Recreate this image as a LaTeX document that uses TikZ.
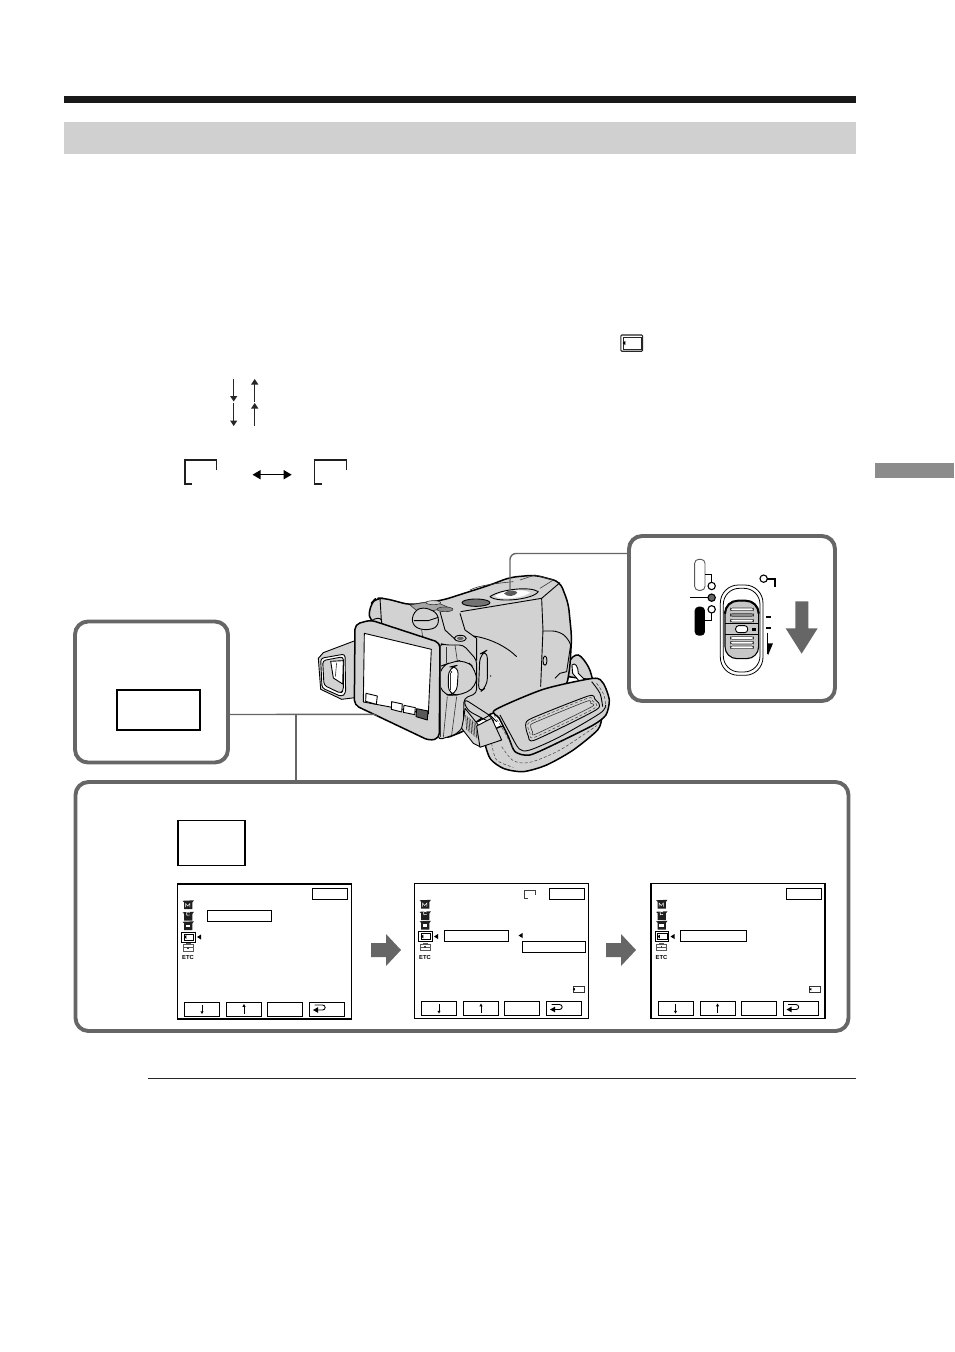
\documentclass[tikz,border=0pt]{standalone}
\usepackage{fontspec}
\setmainfont{Liberation Sans}
\usetikzlibrary{arrows.meta}
\definecolor{panelgray}{HTML}{666666}
\definecolor{bandgray}{HTML}{D0D0D0}
\definecolor{bodygray}{HTML}{D2D2D2}
\definecolor{midgray}{HTML}{9A9A9A}
\tikzset{
  panelbox/.style={draw=panelgray,line width=3.9pt,rounded corners=13pt,fill=white},
  leader/.style={draw=panelgray,line width=1.4pt},
  screenbox/.style={draw=black,line width=1.1pt,fill=white},
  labelbox/.style={draw=black,line width=1pt,fill=white},
  blockarrow/.style={fill=panelgray,draw=none},
  camline/.style={draw=black,line width=0.9pt,line join=round},
  camheavy/.style={draw=black,line width=1.5pt,line join=round},
  camfine/.style={draw=black!80,line width=0.6pt,line join=round},
  stitch/.style={draw=black!75,line width=0.5pt,dash pattern=on 3pt off 2pt},
  zoomcam/.style={shift={(300,530)},x=0.3333pt,y=-0.3333pt},
  zoomsw/.style={shift={(625,530)},x=0.3333pt,y=-0.3333pt},
}
\newcommand{\camshape}[2]{%
  \fill[black!88] (#1-5.5,#2-4.2) -- (#1+6,#2-4.7) -- (#1+4.4,#2-2.6) -- (#1+4.4,#2+4) -- (#1-3.8,#2+4) -- (#1-3.8,#2-2.6) -- cycle;
}
\newcommand{\menucommon}{%
  \draw[screenbox] (0,0) rectangle (174,135);
  \draw[labelbox] (135,4.5) rectangle (170,15.5);
  \camshape{10.5}{21}
  \draw[white,line width=0.5pt] (8,23) -- (8,19.5) -- (10.2,22) -- (12.4,19.5) -- (12.4,23);
  \camshape{10.5}{32.5}
  \draw[white,line width=0.6pt] (12,31) arc (40:320:1.9);
  \camshape{10.5}{42}
  \fill[white] (8.3,40.8) rectangle (12.7,43.2);
  \draw[draw=black,line width=0.9pt] (4,48) rectangle (17.5,58);
  \draw[black,line width=0.5pt] (6.5,50) rectangle (16,56);
  \fill[black] (6.3,53) -- (8.8,51.2) -- (8.8,54.8) -- cycle;
  \fill[black] (19.5,53) -- (23.5,50.5) -- (23.5,55.5) -- cycle;
  \draw[black!65,line width=0.6pt] (5.5,60.5) rectangle (15.5,67);
  \draw[black!65,line width=0.6pt] (5.5,63.5) -- (15.5,63.5) (8.5,60.5) -- (8.5,59.5) -- (12.5,59.5) -- (12.5,60.5);
  \fill[black!75] (9.8,62.8) rectangle (11.2,64.5);
  \node[font=\bfseries\fontsize{5.8}{5.8}\selectfont,inner sep=0pt] at (10.5,73.7) {ETC};
  \foreach \bx in {7,49,90,132}{\draw[labelbox] (\bx,118) rectangle (\bx+35,132);}
  \draw[black,line width=0.6pt] (24.5,120.5) -- (24.5,128);
  \fill[black] (24.5,130) -- (22.9,127.3) -- (26.1,127.3) -- cycle;
  \draw[black,line width=0.6pt] (66.5,129.5) -- (66.5,122.5);
  \fill[black] (66.5,120) -- (64.9,122.8) -- (68.1,122.8) -- cycle;
  \draw[black,line width=0.9pt] (137,121) -- (145,121) .. controls (148.5,121) and (148.5,126) .. (145,126) -- (139,126);
  \fill[black] (135.5,126) -- (140.5,123.2) -- (140.5,128.8) -- cycle;
}
\newcommand{\cardicon}[2]{%
  \draw[black!80,line width=0.6pt] (#1,#2) rectangle (#1+11,#2+6.5);
  \fill[black] (#1-0.3,#2+3.2) -- (#1+1.8,#2+1.9) -- (#1+1.8,#2+4.5) -- cycle;
}
\newcommand{\corner}[3]{%
  \draw[black!88,line width=1.4pt] (#1+#3*0.22,#2+24) -- (#1,#2+24) -- (#1,#2) -- (#1+#3,#2) -- (#1+#3,#2+10);
}
\begin{document}
\begin{tikzpicture}[x=1pt,y=-1pt]
\useasboundingbox (0,0) rectangle (954,1352);
\fill[white] (0,0) rectangle (954,1352);
% page furniture
\fill[black!90] (64,96) rectangle (856,103);
\fill[bandgray] (64,122) rectangle (856,153.5);
\fill[black!45] (875,463) rectangle (954,478);
\draw[black!85,line width=0.7pt] (148,1078.5) -- (856,1078.5);
% small inline symbols
\draw[black!85,line width=1.1pt,rounded corners=1pt] (620.8,335) rectangle (642.6,351.2);
\draw[black!85,line width=0.6pt] (622.8,337) rectangle (640.8,349);
\fill[black] (622.6,343) -- (625.4,340.8) -- (625.4,345.2) -- cycle;
\foreach \ya/\yb in {379/401.5,403/426}{
  \draw[black!85,line width=1pt] (233.7,\ya) -- (233.7,\yb-4);
  \fill[black!85] (233.7,\yb) -- (230,\yb-5.5) -- (237.4,\yb-5.5) -- cycle;
  \draw[black!85,line width=1pt] (254.7,\yb) -- (254.7,\ya+4);
  \fill[black!85] (254.7,\ya) -- (251,\ya+5.5) -- (258.4,\ya+5.5) -- cycle;
}
\corner{185}{460}{31.5}
\corner{314.7}{460}{32}
\coordinate (dblL) at (252.5,474.7);
\coordinate (dblR) at (291.7,474.7);
\draw[black,line width=1.3pt,{Triangle[length=8pt,width=9pt]}-{Triangle[length=8pt,width=9pt]}] (dblL) -- (dblR);
% callout panels
\node[panelbox,minimum width=206pt,minimum height=165pt,inner sep=0pt] (swpanel) at (732,618.5) {};
\node[panelbox,minimum width=153pt,minimum height=141pt,inner sep=0pt] (lcdpanel) at (151.5,692) {};
\node[panelbox,minimum width=773pt,minimum height=249pt,inner sep=0pt] (menupanel) at (462,906.5) {};
\node[labelbox,line width=1.7pt,minimum width=83pt,minimum height=40pt,inner sep=0pt] (lcdtag) at (158.5,710) {};
\node[labelbox,line width=1.7pt,minimum width=67.5pt,minimum height=45pt,inner sep=0pt] (tagB) at (211.5,843) {};
% camera
\begin{scope}[zoomcam]
  % lens hood
  \draw[camline,fill=bodygray] (165,332) -- (70,368) -- (55,385) -- (62,478) -- (125,508) -- (165,503) -- cycle;
  \draw[camline,fill=white,rounded corners=3pt] (62,385) -- (135,372) -- (137,490) -- (125,500) -- (66,474) -- cycle;
  \draw[camline,fill=bodygray,rounded corners=3pt] (68,392) -- (130,380) -- (130,482) -- (122,490) -- (72,466) -- cycle;
  \draw[camline,fill=white] (92,394) -- (130,392) -- (128,462) -- (100,444) -- cycle;
  \draw[camfine] (110,398) -- (106,440);
  % rear loop
  \draw[camheavy,fill=bodygray] plot[smooth,tension=0.6] coordinates {(805,440) (808,395) (835,375) (865,410) (878,450)} -- cycle;
  \draw[camline,fill=white] (816,405) .. controls (825,395) and (835,410) .. (835,430) -- (860,455) -- (845,462) -- (818,430) -- cycle;
  % main body
  \draw[camheavy,fill=bodygray,rounded corners=7pt] (205,270) -- (212,222) -- (228,204) -- (255,205) -- (330,225) -- (430,210) -- (570,165) -- (630,142) -- (705,135) -- (780,155) -- (805,220) -- (815,320) -- (810,410) -- (800,470) -- (720,500) -- (550,560) -- (500,600) -- (430,628) -- (420,340) -- cycle;
  \draw[camline] (482,245) -- (725,205) -- (780,158);
  \draw[camline] (725,205) -- (729,300) -- (722,470);
  \draw[camline,rounded corners=6pt] (729,303) -- (775,303) -- (805,325) -- (812,345);
  \draw[camline] (765,445) -- (780,430) -- (800,425) -- (812,345);
  \draw[camline,fill=bodygray] (735,392) circle[x radius=6,y radius=14];
  % top dials
  \draw[camline,fill=black!55] (528,218) circle[x radius=42,y radius=11];
  \draw[camline,fill=bodygray] (570,200) .. controls (600,178) and (690,168) .. (715,185) .. controls (700,208) and (595,220) .. (570,200) -- cycle;
  \fill[white] (585,198) .. controls (610,180) and (670,175) .. (690,188) .. controls (670,205) and (600,212) .. (585,198) -- cycle;
  \fill[black!65] (612,190) .. controls (625,178) and (650,180) .. (652,188) .. controls (645,200) and (620,202) .. (612,190) -- cycle;
  \draw[camfine] (510,180) .. controls (540,165) and (590,160) .. (640,155);
  \draw[camfine] (660,150) -- (705,135) -- (760,150) -- (720,175);
  % hump and viewfinder
  \draw[camline] (240,205) -- (245,285);
  \draw[camline,fill=bodygray,rounded corners=4pt] (212,270) -- (245,262) -- (245,292) -- (214,283) -- cycle;
  \draw[camfine,fill=black!35] (330,225) -- (400,213) -- (445,232) -- (360,250) -- cycle;
  \draw[camfine,fill=bodygray] (400,218) circle[x radius=22,y radius=6];
  \draw[camfine,fill=black!45] (435,238) circle[x radius=24,y radius=7];
  \draw[camline,fill=bodygray,rounded corners=6pt] (335,285) -- (340,245) -- (370,230) -- (415,250) -- (415,292) -- (370,302) -- cycle;
  \draw[camline] (342,272) -- (385,272) -- (415,262);
  \draw[camline] (420,245) -- (435,300) -- (470,332);
  \draw[camline] (480,250) -- (495,300) -- (530,325) -- (530,392);
  \draw[camfine] (365,300) -- (368,320) -- (420,345);
  \draw[camline,fill=bodygray] (481,325) circle[x radius=18,y radius=9];
  \fill[black!60] (481,325) circle[x radius=10,y radius=5];
  \draw[camline] (520,318) .. controls (570,325) and (620,350) .. (650,380);
  \draw[camline,rounded corners=8pt] (540,372) -- (562,360) -- (562,470) -- (535,490) -- cycle;
  \fill[black] (572,438) circle (2.2);
  % grip column
  \draw[camline,fill=bodygray,rounded corners=4pt] (420,340) -- (435,345) -- (460,345) -- (490,345) -- (530,390) -- (530,490) -- (492,505) -- (490,590) -- (470,612) -- (415,630) -- cycle;
  \draw[camfine] (465,345) -- (472,392);
  \draw[camfine] (440,350) -- (440,400);
  \draw[camfine] (442,500) -- (430,622);
  \draw[camfine] (470,500) -- (455,615);
  \draw[camline,fill=bodygray,rounded corners=10pt] (418,410) -- (450,398) -- (495,388) -- (530,420) -- (530,472) -- (470,500) -- (420,490) -- cycle;
  \draw[camline,fill=white,rounded corners=9pt] (445,412) -- (476,405) -- (470,495) -- (445,495) -- cycle;
  \draw[camfine] (452,430) -- (452,480);
  \fill[black!85] (454,426) circle (3);
  % LCD panel
  \draw[camheavy,fill=bodygray,rounded corners=5pt] (165,283) -- (212,270) -- (420,338) -- (418,625) -- (388,632) -- (163,525) -- cycle;
  \draw[camline,fill=white] (193,310) -- (394,358) -- (385,552) -- (190,516) -- cycle;
  \draw[camfine] (420,345) -- (420,620);
  \draw[camline,fill=white] (198,490) -- (232,498) -- (229,523) -- (197,514) -- cycle;
  \draw[camline,fill=white] (275,515) -- (307,522) -- (305,546) -- (274,538) -- cycle;
  \draw[camline,fill=white] (312,526) -- (346,533) -- (344,554) -- (310,547) -- cycle;
  \draw[camline,fill=black!65] (350,536) -- (384,543) -- (382,570) -- (348,560) -- cycle;
  \fill[black!70] (228,556) circle (3.5);
  % strap roots
  \draw[camline,fill=bodygray,rounded corners=6pt] (490,505) -- (575,560) -- (585,585) -- (500,540) -- cycle;
  \draw[camline,fill=bodygray] (495,535) -- (535,585) -- (540,650) -- (520,640) -- (485,595) -- (492,560) -- cycle;
  \foreach \ri in {0,...,7}{\draw[camfine] (497+5*\ri,555+4*\ri) -- (500+5*\ri,600+4*\ri);}
  % hand strap, lower band
  \draw[camheavy,fill=bodygray] plot[smooth,tension=0.45] coordinates {(555,610) (556,645) (572,688) (612,716) (670,725) (740,705) (820,660) (893,600) (905,565)} -- (600,590) -- cycle;
  \draw[stitch] plot[smooth,tension=0.5] coordinates {(605,650) (640,692) (690,697) (780,660) (890,587)};
  \draw[stitch] plot[smooth,tension=0.5] coordinates {(575,640) (590,690) (640,712)};
  % buckle
  \draw[camline,fill=bodygray] (530,588) -- (575,565) -- (605,630) -- (540,652) -- cycle;
  \draw[camline] (535,575) -- (570,555) -- (590,575);
  % hand strap, flap
  \draw[camheavy,fill=bodygray] plot[smooth cycle,tension=0.42] coordinates {(585,540) (730,478) (880,445) (910,460) (928,510) (918,555) (880,585) (780,635) (690,675) (645,665) (625,620) (598,565)};
  \draw[camline] plot[smooth,tension=0.5] coordinates {(600,555) (630,610) (658,657) (690,660) (780,620) (900,550) (917,525)};
  \draw[camline] plot[smooth,tension=0.5] coordinates {(875,455) (900,490) (908,530)};
  \draw[stitch] plot[smooth,tension=0.5] coordinates {(582,555) (610,600) (640,655)};
  \draw[stitch] plot[smooth,tension=0.5] coordinates {(890,460) (912,495) (918,535)};
  % slot
  \draw[camline,fill=bodygray] plot[smooth cycle,tension=0.4] coordinates {(677,585) (695,565) (865,498) (885,508) (891,538) (705,630) (685,618)};
  \draw[stitch] plot[smooth cycle,tension=0.4] coordinates {(683,586) (700,571) (862,505) (878,513) (883,535) (706,621) (691,613)};
  \draw[camfine] plot[smooth cycle,tension=0.4] coordinates {(692,588) (705,577) (860,514) (872,520) (874,531) (708,612) (698,606)};
\end{scope}
% leaders
\begin{scope}[zoomcam]
  \coordinate (lcdB) at (225,553);
  \coordinate (swB) at (630,190);
\end{scope}
\coordinate (branch) at (296,714.5);
\draw[leader] (lcdpanel.east |- branch) -- (lcdB);
\draw[leader] (branch) -- (branch |- menupanel.north);
\draw[leader,rounded corners=6pt] (swpanel.west |- 0,553.5) -- (510,553.5) -- (swB);
% slide switch
\begin{scope}[zoomsw]
  \draw[draw=black!65,line width=0.9pt,fill=white,rounded corners=4pt] (209,88) rectangle (240,181);
  \draw[black,line width=1.1pt] (240,133) -- (260,133) -- (260,157);
  \draw[black,line width=1.1pt,fill=white] (260,168) circle (11);
  \draw[black,line width=1.1pt] (195,203) -- (249,203);
  \draw[black,line width=1.1pt,fill=black!60] (260,203) circle (11);
  \draw[black,line width=1.1pt,fill=white] (260,238) circle (11);
  \draw[black,line width=1.1pt] (260,249) -- (260,272) -- (240,272);
  \fill[black,rounded corners=4pt] (209,230) rectangle (240,317);
  \draw[black,line width=1.1pt,fill=white] (416,146) circle (11);
  \draw[black,line width=1.3pt] (427,147) -- (450,147) -- (450,170);
  \draw[black,line width=0.8pt,fill=white,rounded corners=18pt] (286,165) rectangle (414,436);
  \draw[black,line width=0.8pt,rounded corners=16pt] (295,175) rectangle (405,426);
  \draw[black,line width=1.1pt,fill=black!22,rounded corners=12pt] (300,212) rectangle (401,386);
  \draw[black,line width=2pt,rounded corners=13pt] (300,245) -- (300,212) -- (401,212) -- (401,245);
  \draw[black,line width=0.7pt] (300,280) -- (401,280) (300,312) -- (401,312);
  \foreach \yy/\cc in {234/white,251/black!45,268/white,320/white,334/white,348/white}{
    \draw[black!80,line width=0.6pt,fill=\cc,rounded corners=2pt] (316,\yy) rectangle (386,\yy+8);}
  \draw[black,line width=0.9pt,fill=white,rounded corners=3pt] (332,287) rectangle (368,308);
  \fill[black] (380,295) rectangle (392,302);
  \fill[black] (422,259) rectangle (438,265);
  \fill[black] (422,291) rectangle (438,297);
  \draw[black,line width=1.3pt] (428,308) -- (428,372);
  \fill[black] (428,340) -- (444,340) -- (429,376) -- cycle;
  \fill[blockarrow] (511,214) -- (550,214) -- (550,295) -- (578,295) -- (530,371) -- (482,295) -- (511,295) -- cycle;
\end{scope}
% menu screens
\begin{scope}[shift={(177.5,884)}]
  \menucommon
  \draw[labelbox] (30,26) rectangle (94,37.7);
\end{scope}
\begin{scope}[shift={(414.5,883.5)}]
  \menucommon
  \draw[labelbox] (29.5,46.5) rectangle (94,57.5);
  \fill[black] (104,52) -- (108,49.5) -- (108,54.5) -- cycle;
  \draw[labelbox] (108,57.5) rectangle (170.5,68.5);
  \draw[black!75,line width=0.8pt] (113,14.5) -- (110,14.5) -- (110,7) -- (120.5,7) -- (120.5,11);
  \cardicon{158.5}{102.5}
\end{scope}
\begin{scope}[shift={(651,883.5)}]
  \menucommon
  \draw[labelbox] (29.5,47) rectangle (95,57.5);
  \cardicon{158.5}{102.5}
\end{scope}
% block arrows between screens
\foreach \ax in {371,606}{
  \fill[blockarrow] (\ax,943) -- (\ax+15,943) -- (\ax+15,934) -- (\ax+30,950) -- (\ax+15,966) -- (\ax+15,957) -- (\ax,957) -- cycle;
}
\end{tikzpicture}
\end{document}
